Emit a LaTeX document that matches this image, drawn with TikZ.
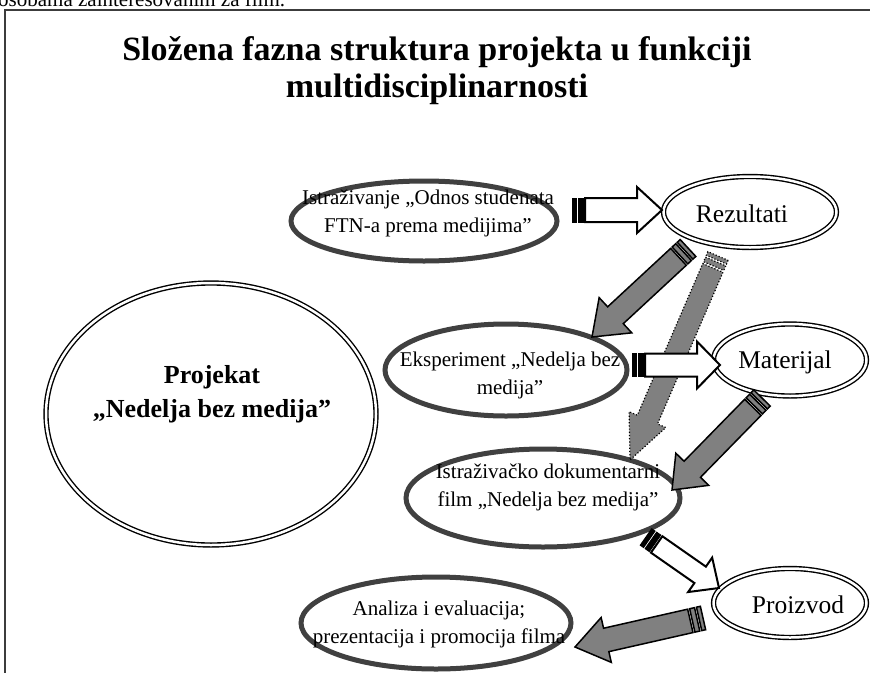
\documentclass[tikz,border=0pt]{standalone}
\usepackage{fontspec}
\setmainfont{Liberation Serif}
\usetikzlibrary{shapes.geometric,calc}
\definecolor{rim}{HTML}{404040}
\definecolor{framecol}{HTML}{3C3C3C}
\definecolor{fillgray}{HTML}{808080}
% striped block arrow: #1 body style, #2 stripe style, #3 tail, #4 tip, #5 half shaft, #6 half head, #7 head length
\newcommand\sarr[7]{%
  \draw[#2] ($(#3)!0pt!(#4)!#5!90:(#4)$) -- ($(#3)!4pt!(#4)!#5!90:(#4)$) -- ($(#3)!4pt!(#4)!#5!-90:(#4)$) -- ($(#3)!0pt!(#4)!#5!-90:(#4)$) -- cycle;
  \draw[#2] ($(#3)!6pt!(#4)!#5!90:(#4)$) -- ($(#3)!11pt!(#4)!#5!90:(#4)$) -- ($(#3)!11pt!(#4)!#5!-90:(#4)$) -- ($(#3)!6pt!(#4)!#5!-90:(#4)$) -- cycle;
  \draw[#1] ($(#3)!13pt!(#4)!#5!90:(#4)$) -- ($(#4)!#7!(#3)!#5!-90:(#3)$) -- ($(#4)!#7!(#3)!#6!-90:(#3)$) -- (#4) -- ($(#4)!#7!(#3)!#6!90:(#3)$) -- ($(#4)!#7!(#3)!#5!90:(#3)$) -- ($(#3)!13pt!(#4)!#5!-90:(#4)$) -- cycle;
}
\tikzset{
  thickell/.style={ellipse, draw=rim, line width=5pt, inner sep=0pt},
  dblell/.style={ellipse, draw=black, double=white, line width=1.4pt, double distance=2.5pt, inner sep=0pt},
  txt/.style={align=center, inner sep=0pt, font=\fontsize{21}{28}\selectfont},
  bigtxt/.style={align=center, inner sep=0pt, font=\fontsize{25.5}{30}\selectfont},
  wbody/.style={draw=black, fill=white, line width=2pt, line join=miter},
  wstripe/.style={draw=black, fill=black, line width=1pt},
  gbody/.style={draw=black, fill=fillgray, line width=1.5pt, line join=miter},
  gstripe/.style={draw=black, fill=fillgray, line width=1.5pt},
  dbody/.style={draw=black, fill=fillgray, line width=1.2pt, dotted},
}
\begin{document}
\begin{tikzpicture}[x=1pt,y=-1pt]
\useasboundingbox (0,0) rectangle (870,672);
\clip (0,0) rectangle (870,672);
\fill[white] (0,0) rectangle (870,672);
% page text cut off at the top
\node[anchor=base west, inner sep=0pt, font=\fontsize{21}{28}\selectfont] (toptext) at (-2,6) {osobama zainteresovanim za film.};
% frame
\draw[framecol, line width=2.5pt] (5,700) -- (5,10) -- (900,10);
% title
\node[align=center, inner sep=0pt, font=\bfseries\fontsize{34}{37}\selectfont] (title) at (437,71) {Složena fazna struktura projekta u funkciji\\multidisciplinarnosti};
% ellipses
\node[dblell, minimum width=330pt, minimum height=262pt] (proj) at (211,414) {};
\node[thickell, minimum width=266pt, minimum height=80pt] (istr) at (424,221) {};
\node[dblell, minimum width=173pt, minimum height=71pt] (rez) at (750,212) {};
\node[thickell, minimum width=242pt, minimum height=92pt] (eksp) at (506,370) {};
\node[dblell, minimum width=153pt, minimum height=72pt] (mat) at (790,360) {};
\node[thickell, minimum width=274pt, minimum height=98pt] (film) at (543,498) {};
\node[dblell, minimum width=153pt, minimum height=69pt] (proiz) at (790,603) {};
\node[thickell, minimum width=270pt, minimum height=92pt] (anal) at (436,623) {};
% arrow end points
\coordinate (a1t) at (572,210); \coordinate (a1h) at (662,210);
\coordinate (a2t) at (688,248); \coordinate (a2h) at (592,337);
\coordinate (a3t) at (718,256); \coordinate (a3h) at (630,460);
\coordinate (a4t) at (632,365); \coordinate (a4h) at (720,365);
\coordinate (a5t) at (762,398); \coordinate (a5h) at (672,490);
\coordinate (a6t) at (646,537); \coordinate (a6h) at (719,588);
\coordinate (a7t) at (703,618); \coordinate (a7h) at (575,647);
% arrows
\sarr{dbody}{dbody}{a3t}{a3h}{11pt}{20pt}{44pt}
\sarr{gbody}{gstripe}{a2t}{a2h}{11.5pt}{24pt}{32pt}
\sarr{gbody}{gstripe}{a5t}{a5h}{11.5pt}{23pt}{29pt}
\sarr{gbody}{gstripe}{a7t}{a7h}{12pt}{23pt}{32pt}
\sarr{wbody}{wstripe}{a1t}{a1h}{12pt}{23pt}{25pt}
\sarr{wbody}{wstripe}{a4t}{a4h}{11.5pt}{23.5pt}{23pt}
\sarr{wbody}{wstripe}{a6t}{a6h}{10pt}{21pt}{23pt}
% texts
\node[align=center, inner sep=0pt, font=\bfseries\fontsize{26}{34}\selectfont] (projt) at (212,394) {Projekat\\„Nedelja bez medija”};
\node[txt] (istrt) at (428,213) {Istraživanje „Odnos studenata\\FTN-a prema medijima”};
\node[bigtxt] (rezt) at (742,214) {Rezultati};
\node[txt] (ekspt) at (510,375) {Eksperiment „Nedelja bez\\medija”};
\node[bigtxt] (matt) at (785,362) {Materijal};
\node[txt] (filmt) at (548,487) {Istraživačko dokumentarni\\film „Nedelja bez medija”};
\node[bigtxt] (proizt) at (798,605) {Proizvod};
\node[txt] (analt) at (439,624) {Analiza i evaluacija;\\prezentacija i promocija filma};
\end{tikzpicture}
\end{document}
